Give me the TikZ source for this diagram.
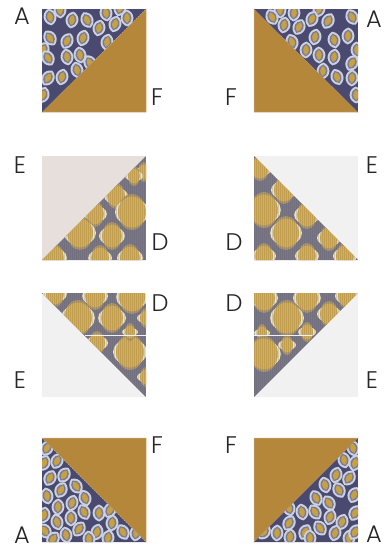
\documentclass[tikz,border=0pt]{standalone}
\usepackage{fontspec}
\setmainfont{Poppins}[UprightFont=* Light]
\usetikzlibrary{positioning}
\definecolor{quiltgold}{HTML}{B5873A}
\definecolor{podnavy}{HTML}{4A4A70}
\definecolor{podring}{HTML}{CDD2E0}
\definecolor{podseed}{HTML}{C7A03F}
\definecolor{ikatgray}{HTML}{7A7888}
\definecolor{ikatgold}{HTML}{DBB04C}
\definecolor{ikatcream}{HTML}{F0E4BC}
\definecolor{paledust}{HTML}{E6DFDB}
\definecolor{palegray}{HTML}{F1F1F1}
\tikzset{
  lbl/.style={text=black!85, font=\fontsize{24}{24}\selectfont, inner sep=0pt},
  solid gold/.style={fill=quiltgold, draw=quiltgold!70!white, line width=0.5pt},
  seedpod/.pic={
    \fill[podring] (0,-8.5) .. controls (8.5,-5.5) and (8.5,5.5) .. (0,8.5) .. controls (-8.5,5.5) and (-8.5,-5.5) .. cycle;
    \fill[podnavy!65!podring] (0,-6.5) .. controls (6,-4) and (6,4) .. (0,6.5) .. controls (-6,4) and (-6,-4) .. cycle;
    \fill[podseed] (0,-5) .. controls (3.8,-2.5) and (3.8,2.5) .. (0,5) .. controls (-3.8,2.5) and (-3.8,-2.5) .. cycle;
  }
}
% pod fabric: triangle, then pod centres
\newcommand{\podpatch}[2]{
  \begin{scope}
    \clip #1;
    \fill[podnavy] #1;
    \foreach \x/\y in {#2} {
      \pgfmathsetmacro{\podrot}{mod(\x*7+\y*11,70)-35}
      \pic[rotate=\podrot] at (\x,\y) {seedpod};
    }
  \end{scope}
}
% ikat fabric: triangle, corner x of the square, then blobs x/y/radius
\newcommand{\ikatpatch}[3]{
  \begin{scope}
    \clip #1;
    \fill[ikatgray] #1;
    \foreach \x/\y/\rad in {#3} {
      \fill[ikatgold!55!ikatgray] (\x,\y) ellipse [x radius=\rad, y radius=\rad+4];
      \fill[ikatcream] (\x,\y) ellipse [x radius=\rad+3, y radius=\rad-1];
      \fill[ikatgold] (\x,\y) ellipse [x radius=\rad, y radius=\rad+1.5];
    }
    \foreach \i in {0,2,...,104} {
      \draw[ikatgray!70!black, opacity=0.2, line width=0.6pt] (#2+\i,0) -- (#2+\i,546);
    }
  \end{scope}
}

\begin{document}
\begin{tikzpicture}[x=1pt, y=-1pt]
  \useasboundingbox (0,0) rectangle (384,546);

  % row 1
  \fill[solid gold] (146,9) -- (146,112) -- (42,112) -- cycle;
  \podpatch{(42,9) -- (146,9) -- (42,112) -- cycle}{60/10,50/17,72/20,87/20,106/13,120/8,115/24,99/28,127/18,50/38,67/41,83/38,107/42,43/50,48/58,67/57,80/55,90/63,48/78,62/77,77/70,43/95}
  \fill[solid gold] (254,9) -- (358,112) -- (254,112) -- cycle;
  \podpatch{(254,9) -- (358,9) -- (358,112) -- cycle}{280/10,272/17,284/25,294/13,299/27,319/9,312/19,328/21,352/17,315/37,334/40,348/36,292/42,306/50,357/50,319/55,334/57,352/63,323/71,337/77,352/78,356/95}

  % row 2
  \fill[paledust] (42,156) rectangle (146,260);
  \ikatpatch{(146,156) -- (146,260) -- (42,260) -- cycle}{42}{144/172/6,134/176/6,116/196/9,95/214/9,132/212/14,112/236/10,80/233/13,53/258/11,100/258/9,130/258/10}
  \fill[palegray] (254,156) rectangle (358,260);
  \ikatpatch{(254,156) -- (358,260) -- (254,260) -- cycle}{254}{260/168/9,284/190/10,264/210/14,307/215/10,286/233/13,329/238/9,264/256/9,307/256/9,345/256/9}

  % row 3
  \fill[palegray] (42,293) rectangle (146,397);
  \ikatpatch{(42,293) -- (146,293) -- (146,397) -- cycle}{42}{55/294/9,95/296/10,132/297/13,78/318/14,112/318/11,146/318/6,130/352/14,97/343/8,130/332/5,146/377/6}
  \draw[palegray, line width=0.5pt] (85,335) -- (146,335);
  \fill[palegray] (254,293) rectangle (358,397);
  \ikatpatch{(254,293) -- (358,293) -- (254,397) -- cycle}{254}{264/298/11,307/298/11,347/296/9,329/314/9,287/318/14,307/332/6,262/333/5,287/345/6,264/354/14}
  \draw[palegray, line width=0.5pt] (254,335) -- (312,335);

  % row 4
  \fill[solid gold] (42,438) -- (146,438) -- (146,542) -- cycle;
  \podpatch{(42,438) -- (146,542) -- (42,542) -- cycle}{47/448,57/461,44/463,50/478,64/475,76/486,61/490,47/496,85/498,72/503,58/507,99/513,110/510,84/512,71/518,57/522,44/515,112/523,97/532,79/529,66/535,45/531,123/532,108/538,89/539,53/539,136/533}
  \fill[solid gold] (254,438) -- (358,438) -- (254,542) -- cycle;
  \podpatch{(358,438) -- (358,542) -- (254,542) -- cycle}{353/448,344/460,355/463,336/475,349/478,325/485,339/490,354/495,316/498,329/503,302/512,315/512,330/517,342/522,355/513,289/508,289/523,277/533,264/532,305/532,320/528,335/533,349/538,355/532,290/537,310/538}

  % labels
  \node[lbl] (a1) at (22,16) {A};
  \node[lbl] (f1) at (157,97) {F};
  \node[lbl] (a2) at (374,19) {A};
  \node[lbl] (f2) at (231,97) {F};
  \node[lbl] (e1) at (20,165) {E};
  \node[lbl] (d1) at (160,242) {D};
  \node[lbl] (e2) at (372,165) {E};
  \node[lbl] (d2) at (234,242) {D};
  \node[lbl] (d3) at (160,303) {D};
  \node[lbl] (e3) at (20,380) {E};
  \node[lbl] (d4) at (234,303) {D};
  \node[lbl] (e4) at (372,380) {E};
  \node[lbl] (f3) at (157,445) {F};
  \node[lbl] (a3) at (22,535) {A};
  \node[lbl] (f4) at (231,445) {F};
  \node[lbl] (a4) at (374,534) {A};
\end{tikzpicture}
\end{document}
